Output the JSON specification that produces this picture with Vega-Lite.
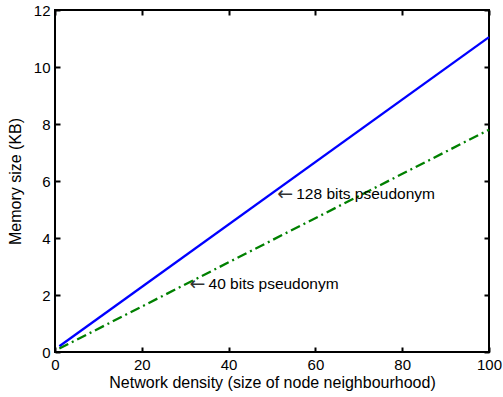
{
  "$schema": "https://vega.github.io/schema/vega-lite/v6.json",
  "width": 434,
  "height": 342,
  "autosize": {"type": "none"},
  "padding": {"left": 55, "top": 10, "right": 14, "bottom": 45},
  "background": "white",
  "config": {
    "font": "Liberation Sans",
    "view": {"stroke": "black", "strokeWidth": 2},
    "axis": {
      "grid": false,
      "domain": false,
      "tickColor": "black",
      "tickSize": -5,
      "tickWidth": 2,
      "labelColor": "black",
      "labelFontSize": 15,
      "labelFlush": false,
      "labelFont": "Liberation Sans",
      "titleFont": "Liberation Sans",
      "titleFontSize": 16,
      "titleFontWeight": "normal",
      "titleColor": "black"
    }
  },
  "datasets": {
    "lines": [
      {"n": 1, "mem": 0.2, "series": "128 bits pseudonym"},
      {"n": 100, "mem": 11.05, "series": "128 bits pseudonym"},
      {"n": 1, "mem": 0.12, "series": "40 bits pseudonym"},
      {"n": 100, "mem": 7.8, "series": "40 bits pseudonym"}
    ],
    "labels": [
      {"n": 51.2, "mem": 5.56, "arrow": "←", "text": "128 bits pseudonym"},
      {"n": 31.0, "mem": 2.38, "arrow": "←", "text": "40 bits pseudonym"}
    ]
  },
  "resolve": {"axis": {"x": "independent", "y": "independent"}},
  "layer": [
    {
      "data": {"name": "lines"},
      "transform": [{"filter": "datum.series === '128 bits pseudonym'"}],
      "mark": {"type": "line", "color": "#0000ff", "strokeWidth": 2.3},
      "encoding": {
        "x": {"field": "n", "type": "quantitative", "scale": {"domain": [0, 100], "nice": false},
          "axis": {"title": "Network density (size of node neighbourhood)", "values": [0, 20, 40, 60, 80, 100], "labelPadding": 10, "titlePadding": 2}},
        "y": {"field": "mem", "type": "quantitative", "scale": {"domain": [0, 12], "nice": false},
          "axis": {"title": "Memory size (KB)", "values": [0, 2, 4, 6, 8, 10, 12], "labelPadding": 10, "titlePadding": 10}}
      }
    },
    {
      "data": {"name": "lines"},
      "transform": [{"filter": "datum.series === '40 bits pseudonym'"}],
      "mark": {"type": "line", "color": "#008000", "strokeWidth": 2.3, "strokeDash": [10, 4, 2, 4]},
      "encoding": {
        "x": {"field": "n", "type": "quantitative",
          "axis": {"orient": "top", "labels": false, "title": null, "values": [0, 20, 40, 60, 80, 100]}},
        "y": {"field": "mem", "type": "quantitative",
          "axis": {"orient": "right", "labels": false, "title": null, "values": [0, 2, 4, 6, 8, 10, 12]}}
      }
    },
    {
      "data": {"name": "labels"},
      "mark": {"type": "text", "align": "left", "baseline": "middle", "fontSize": 19, "color": "#333333", "font": "DejaVu Sans"},
      "encoding": {
        "x": {"field": "n", "type": "quantitative", "axis": null},
        "y": {"field": "mem", "type": "quantitative", "axis": null},
        "text": {"field": "arrow"}
      }
    },
    {
      "data": {"name": "labels"},
      "mark": {"type": "text", "align": "left", "baseline": "middle", "dx": 19, "fontSize": 15.5, "color": "black", "font": "Liberation Sans"},
      "encoding": {
        "x": {"field": "n", "type": "quantitative", "axis": null},
        "y": {"field": "mem", "type": "quantitative", "axis": null},
        "text": {"field": "text"}
      }
    }
  ]
}
